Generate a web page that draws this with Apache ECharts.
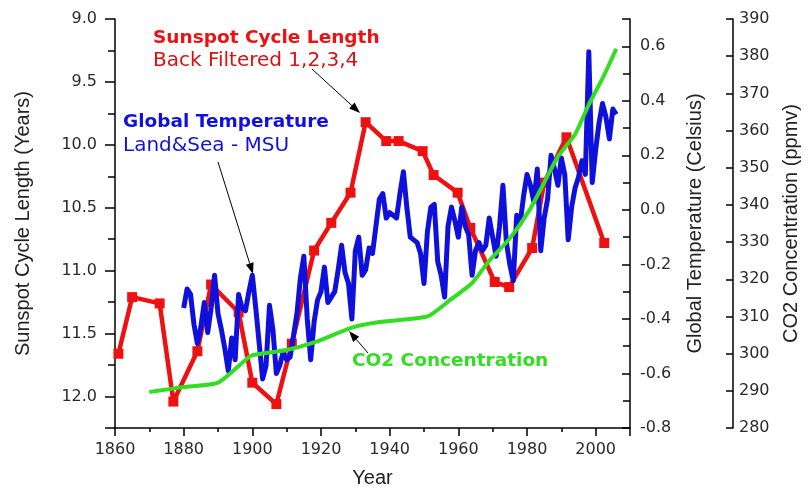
<!DOCTYPE html>
<html><head><meta charset="utf-8">
<script src="https://cdn.jsdelivr.net/npm/echarts@6/dist/echarts.min.js"></script>
<style>html,body{margin:0;padding:0;background:#fff}#c{width:812px;height:487px}</style>
</head><body><div id="c"></div>
<script>
// Sunspot cycle length (years), back filtered 1,2,3,4
const sunYears = [1861, 1865, 1873, 1877, 1884, 1888, 1896, 1900, 1907, 1911.5, 1918, 1923, 1928.6, 1933, 1939, 1942.6, 1949.6, 1952.8, 1959.8, 1963.5, 1970.6, 1974.8, 1981.5, 1985, 1991.5, 2002.5];
const sunValues = [11.66, 11.21, 11.26, 12.04, 11.64, 11.11, 11.33, 11.89, 12.06, 11.58, 10.84, 10.62, 10.38, 9.82, 9.97, 9.97, 10.05, 10.24, 10.38, 10.66, 11.09, 11.13, 10.82, 10.30, 9.94, 10.78];

// Global temperature (Celsius), annual 1880..2006
const tempYears = [];
for (let y = 1880; y <= 2006; y++) tempYears.push(y);
const tempValues = [
 -0.36,-0.29,-0.31,-0.42,-0.49,-0.43,-0.34,-0.45,-0.36,-0.24,
 -0.38,-0.44,-0.51,-0.59,-0.47,-0.55,-0.31,-0.36,-0.37,-0.30,
 -0.24,-0.36,-0.49,-0.62,-0.57,-0.35,-0.44,-0.60,-0.57,-0.52,
 -0.55,-0.54,-0.46,-0.38,-0.25,-0.17,-0.40,-0.55,-0.41,-0.33,
 -0.30,-0.21,-0.34,-0.32,-0.30,-0.22,-0.13,-0.23,-0.27,-0.40,
 -0.15,-0.10,-0.24,-0.22,-0.14,-0.16,-0.06,0.04,0.06,-0.03,
 -0.01,-0.02,-0.03,0.06,0.14,0.01,-0.10,-0.11,-0.12,-0.16,
 -0.27,-0.08,0.01,0.02,-0.19,-0.24,-0.32,-0.06,0.01,-0.04,
 -0.10,0.01,-0.06,-0.09,-0.24,-0.15,-0.12,-0.15,-0.13,-0.03,
 -0.10,-0.17,-0.06,0.09,-0.12,-0.20,-0.26,-0.02,-0.05,0.05,
 0.13,0.09,0.03,0.15,-0.15,-0.03,0.04,0.20,0.15,0.09,
 0.19,0.13,-0.11,0.01,0.08,0.12,0.18,0.13,0.58,0.10,
 0.22,0.32,0.39,0.34,0.26,0.37,0.35];

// CO2 concentration (ppmv)
const co2Years = [1870, 1880, 1890, 1898, 1900, 1910, 1918, 1929, 1937, 1951, 1957, 1964, 1969, 1975, 1981, 1985, 1989, 1994, 1998, 2002, 2006];
const co2Values = [289.7, 291.0, 292.2, 298.3, 299.6, 301.0, 303.0, 307.0, 308.5, 310.0, 314.0, 319.0, 325.0, 331.0, 339.0, 346.0, 353.0, 359.0, 367.0, 374.0, 382.0];

const xTicks = {min: 1860, max: 2010, interval: 20};

const pair = (xs, ys) => xs.map((x, i) => [x, ys[i]]);
const chart = echarts.init(document.getElementById('c'), null, {renderer: 'canvas'});

const lblFont = 'DejaVu Sans';
const lblColor = '#2a2a2a';
const titleStyle = {fontFamily: 'Liberation Sans', fontSize: 20, color: '#222'};
const yTitleStyle = {fontFamily: 'Liberation Sans', fontSize: 20, color: '#222', padding: [0, 0, 0, 0]};

function arrow(x1, y1, x2, y2) {
  const ang = Math.atan2(y2 - y1, x2 - x1);
  const L = 11, W = 4;
  const bx = x2 - L * Math.cos(ang), by = y2 - L * Math.sin(ang);
  const px = -Math.sin(ang) * W, py = Math.cos(ang) * W;
  return [
    {type: 'line', shape: {x1, y1, x2: bx, y2: by}, style: {stroke: '#000', lineWidth: 1}, z: 100},
    {type: 'polygon', shape: {points: [[x2, y2], [bx + px, by + py], [bx - px, by - py]]}, style: {fill: '#000'}, z: 100}
  ];
}

const option = {
  backgroundColor: '#fff',
  animation: false,
  grid: {left: 115, right: 182, top: 19, bottom: 59, containLabel: false, outerBoundsMode: 'none'},
  xAxis: {
    type: 'value', min: xTicks.min, max: xTicks.max, interval: xTicks.interval,
    name: 'Year', nameLocation: 'middle', nameGap: 40, nameTextStyle: titleStyle,
    axisLine: {show: true, onZero: false, lineStyle: {color: '#000', width: 1.5}},
    axisTick: {show: true, inside: false, length: 8, lineStyle: {color: '#000', width: 1.5}},
    minorTick: {show: true, splitNumber: 2, length: 4, lineStyle: {color: '#000', width: 1.5}},
    splitLine: {show: false},
    axisLabel: {show: true, margin: 14, fontFamily: lblFont, fontSize: 16, color: lblColor, showMaxLabel: false,
      formatter: v => String(v)}
  },
  yAxis: [
    {
      type: 'value', position: 'left', inverse: true, min: 9.0, max: 12.25, interval: 0.5,
      name: 'Sunspot Cycle Length (Years)', nameLocation: 'middle', nameRotate: 90, nameGap: 82,
      nameTextStyle: yTitleStyle,
      axisLine: {show: true, onZero: false, lineStyle: {color: '#000', width: 1.5}},
      axisTick: {show: true, inside: false, length: 10, lineStyle: {color: '#000', width: 1.5}},
      minorTick: {show: true, splitNumber: 2, length: 7, lineStyle: {color: '#000', width: 1.5}},
      splitLine: {show: false},
      axisLabel: {margin: 18, fontFamily: lblFont, fontSize: 16, color: lblColor, showMaxLabel: false,
        formatter: v => v.toFixed(1)}
    },
    {
      type: 'value', position: 'right', min: -0.8, max: 0.7, interval: 0.2,
      name: 'Global Temperature (Celsius)', nameLocation: 'middle', nameRotate: 90, nameGap: 55,
      nameTextStyle: yTitleStyle,
      axisLine: {show: true, onZero: false, lineStyle: {color: '#000', width: 1.5}},
      axisTick: {show: true, inside: true, length: 8, lineStyle: {color: '#000', width: 1.5}},
      minorTick: {show: true, splitNumber: 2, length: 7, lineStyle: {color: '#000', width: 1.5}},
      splitLine: {show: false},
      axisLabel: {margin: 10, fontFamily: lblFont, fontSize: 16, color: lblColor, showMaxLabel: false,
        formatter: v => v.toFixed(1)}
    },
    {
      type: 'value', position: 'right', offset: 103, min: 280, max: 390, interval: 10,
      name: 'CO2 Concentration (ppmv)', nameLocation: 'middle', nameRotate: 90, nameGap: 48,
      nameTextStyle: yTitleStyle,
      axisLine: {show: true, onZero: false, lineStyle: {color: '#000', width: 1.5}},
      axisTick: {show: true, inside: true, length: 7, lineStyle: {color: '#000', width: 1.5}},
      splitLine: {show: false},
      axisLabel: {margin: 6, fontFamily: lblFont, fontSize: 16, color: lblColor}
    }
  ],
  series: [
    {
      name: 'Sunspot', type: 'line', yAxisIndex: 0, data: pair(sunYears, sunValues),
      symbol: 'rect', symbolSize: 10, showAllSymbol: true,
      itemStyle: {color: '#ee1111'}, lineStyle: {color: '#ee1111', width: 4.5}, z: 2
    },
    {
      name: 'Temperature', type: 'line', yAxisIndex: 1, data: pair(tempYears, tempValues),
      symbol: 'none', sampling: null, lineStyle: {color: '#1010dd', width: 5, join: 'round'}, z: 3
    },
    {
      name: 'CO2', type: 'line', yAxisIndex: 2, data: pair(co2Years, co2Values),
      symbol: 'none', smooth: 0.2, lineStyle: {color: '#33dd22', width: 4}, z: 4
    }
  ],
  graphic: [
    {type: 'text', left: 153, top: 29, style: {text: 'Sunspot Cycle Length', fontFamily: 'DejaVu Sans', fontWeight: 'bold', fontSize: 18.5, fill: '#ee1111'}},
    {type: 'text', left: 153, top: 51, style: {text: 'Back Filtered 1,2,3,4', fontFamily: 'DejaVu Sans', fontSize: 20, fill: '#dd1111'}},
    {type: 'text', left: 123, top: 113, style: {text: 'Global Temperature', fontFamily: 'DejaVu Sans', fontWeight: 'bold', fontSize: 18.5, fill: '#1111dd'}},
    {type: 'text', left: 123, top: 136, style: {text: 'Land&Sea - MSU', fontFamily: 'DejaVu Sans', fontSize: 20, fill: '#1111dd'}},
    {type: 'text', left: 352, top: 352, style: {text: 'CO2 Concentration', fontFamily: 'DejaVu Sans', fontWeight: 'bold', fontSize: 18.5, fill: '#33dd22'}},
    ...arrow(312, 69, 360, 113),
    ...arrow(218, 162, 253, 274),
    ...arrow(368, 353, 349, 331)
  ]
};
chart.setOption(option);
</script></body></html>
